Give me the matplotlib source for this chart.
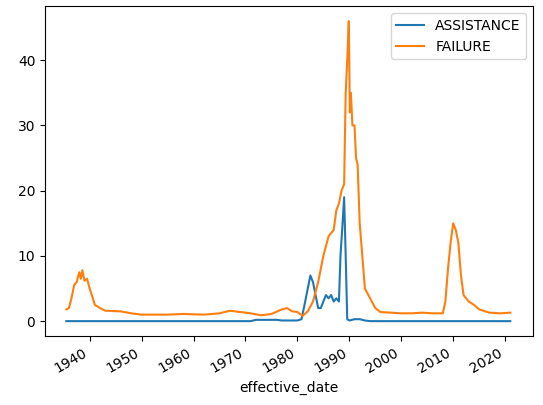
import matplotlib
matplotlib.use("Agg")
import matplotlib.pyplot as plt
import matplotlib.dates as mdates
import pandas as pd

# (decimal year, value)
fail_years = [1935.5, 1936, 1936.5, 1937, 1937.5, 1938, 1938.3, 1938.6, 1939, 1939.5, 1940, 1940.5,
              1941, 1942, 1943, 1946, 1948, 1950, 1955, 1958, 1962, 1965, 1967, 1969, 1971, 1973,
              1975, 1977, 1978, 1979, 1980, 1981, 1982, 1983, 1984, 1985, 1986, 1987, 1987.5, 1988,
              1988.5, 1989, 1989.3, 1989.6, 1989.9, 1990.1, 1990.3, 1990.6, 1991, 1991.3, 1991.6,
              1992, 1992.5, 1993, 1994, 1995, 1996, 1998, 2000, 2002, 2004, 2006, 2008, 2008.5,
              2009, 2009.5, 2010, 2010.5, 2011, 2011.5, 2012, 2013, 2014, 2015, 2017, 2019, 2021]
fail_vals = [1.8, 2.0, 3.5, 5.5, 6.0, 7.5, 6.5, 7.8, 6.2, 6.5, 5.0, 3.8,
             2.5, 2.0, 1.6, 1.5, 1.2, 1.0, 1.0, 1.1, 1.0, 1.2, 1.6, 1.4, 1.2, 0.9,
             1.1, 1.8, 2.0, 1.5, 1.4, 0.8, 1.5, 3.0, 6.0, 10.0, 13.0, 14.0, 17.0, 18.0,
             20.0, 21.0, 35.0, 40.0, 46.0, 32.0, 35.0, 30.0, 30.0, 25.0, 24.0,
             15.0, 10.0, 5.0, 3.5, 2.0, 1.4, 1.3, 1.2, 1.2, 1.3, 1.2, 1.2, 3.0,
             8.0, 12.0, 15.0, 14.0, 12.0, 7.0, 4.0, 3.0, 2.5, 1.8, 1.3, 1.2, 1.3]

assist_years = [1935.5, 1971, 1972, 1976, 1977, 1980, 1980.8, 1981.5, 1982, 1982.5, 1983, 1983.5,
                1984, 1984.5, 1985, 1985.5, 1986, 1986.5, 1987, 1987.5, 1988, 1988.3, 1988.7,
                1989, 1989.3, 1989.6, 1990, 1991, 1992, 1993, 1994, 2021]
assist_vals = [0, 0, 0.2, 0.2, 0.1, 0.1, 0.3, 3.0, 5.0, 7.0, 6.0, 4.0,
               2.0, 2.0, 3.0, 4.0, 3.5, 4.0, 3.0, 3.5, 3.0, 10.0, 15.0,
               19.0, 10.0, 0.3, 0.1, 0.3, 0.3, 0.1, 0, 0]


def to_dates(years):
    return [pd.Timestamp(int(y), 1, 1) + pd.Timedelta(days=(y - int(y)) * 365.25) for y in years]


fig, ax = plt.subplots(figsize=(5.43, 4.05), dpi=100)
ax.plot(to_dates(assist_years), assist_vals, label="ASSISTANCE", color="#1f77b4")
ax.plot(to_dates(fail_years), fail_vals, label="FAILURE", color="#ff7f0e")
ax.xaxis.set_major_locator(mdates.YearLocator(10))
ax.xaxis.set_major_formatter(mdates.DateFormatter("%Y"))
ax.set_xlim(pd.Timestamp(1931, 6, 1), pd.Timestamp(2025, 6, 1))
ax.set_ylim(-2.3, 48.3)
ax.set_xlabel("effective_date")
ax.legend(loc="upper right")
fig.autofmt_xdate()
fig.subplots_adjust(left=0.083, right=0.982, top=0.985, bottom=0.17)
fig.savefig("out.png")
